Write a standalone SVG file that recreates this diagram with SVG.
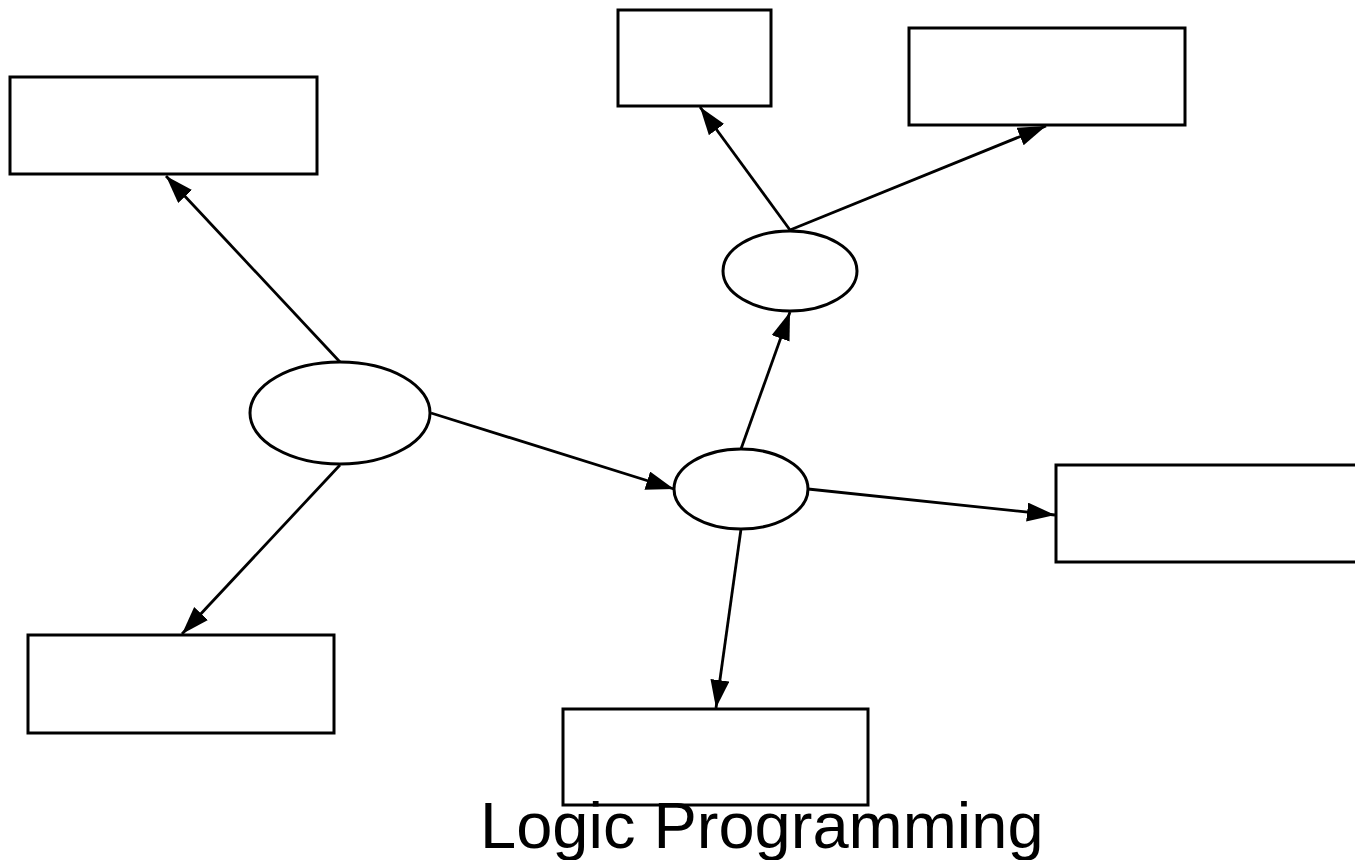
<svg xmlns="http://www.w3.org/2000/svg" width="1355" height="860" viewBox="0 0 1355 860">
  <style>
    .box { fill: #ffffff; stroke: #000000; stroke-width: 3; }
    .oval { fill: #ffffff; stroke: #000000; stroke-width: 3; }
    .edge { fill: none; stroke: #000000; stroke-width: 2.8; marker-end: url(#arrow); }
    .title { font-family: "Liberation Sans", Arial, sans-serif; font-size: 65px; fill: #000000; }
  </style>
  <defs>
    <marker id="arrow" markerUnits="userSpaceOnUse" markerWidth="30" markerHeight="20" refX="28" refY="9.5" orient="auto">
      <path d="M0,0 L28,9.5 L0,19 Z" fill="#000000"/>
    </marker>
  </defs>
  <rect width="1355" height="860" fill="#ffffff"/>

  <g id="connectors">
    <line class="edge" x1="340" y1="362" x2="166" y2="176"/>
    <line class="edge" x1="340" y1="465" x2="182" y2="634"/>
    <line class="edge" x1="431" y1="413" x2="674" y2="489"/>
    <line class="edge" x1="741" y1="449" x2="790" y2="312"/>
    <line class="edge" x1="808" y1="489" x2="1055" y2="515"/>
    <line class="edge" x1="741" y1="529" x2="716" y2="708"/>
    <line class="edge" x1="790" y1="230" x2="700" y2="107"/>
    <line class="edge" x1="790" y1="230" x2="1046" y2="126"/>
  </g>

  <g id="node-hub-left"><ellipse class="oval" cx="340" cy="413" rx="90" ry="51"/></g>
  <g id="node-hub-center"><ellipse class="oval" cx="741" cy="489" rx="67" ry="40"/></g>
  <g id="node-hub-top"><ellipse class="oval" cx="790" cy="271" rx="67" ry="40"/></g>

  <g id="node-box-top-left"><rect class="box" x="10" y="77" width="307" height="97"/></g>
  <g id="node-box-top-small"><rect class="box" x="618" y="10" width="153" height="96"/></g>
  <g id="node-box-top-right"><rect class="box" x="909" y="28" width="276" height="97"/></g>
  <g id="node-box-right"><rect class="box" x="1056" y="465" width="310" height="97"/></g>
  <g id="node-box-bottom-left"><rect class="box" x="28" y="635" width="306" height="98"/></g>
  <g id="node-box-bottom"><rect class="box" x="563" y="709" width="305" height="96"/></g>

  <g id="caption">
    <text class="title" x="480" y="848">Logic Programming</text>
  </g>
</svg>
